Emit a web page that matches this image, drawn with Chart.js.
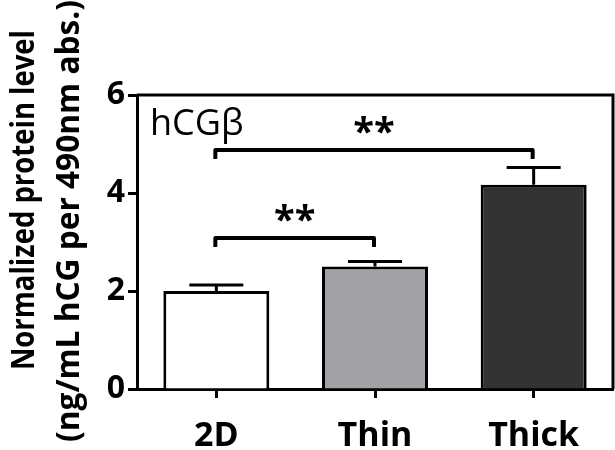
<!DOCTYPE html>
<html>
<head>
<meta charset="utf-8">
<script src="https://cdn.jsdelivr.net/npm/chart.js@4.4.1/dist/chart.umd.min.js"></script>
<style>
  body { margin: 0; background: #fff; }
  #wrap { width: 615px; height: 450px; }
</style>
</head>
<body>
<div id="wrap"><canvas id="hcgChart"></canvas></div>
<script>
// data
const categories = ["2D", "Thin", "Thick"];
const means = [2.0, 2.5, 4.17];
const sem = [0.12, 0.10, 0.35];
const yTicks = [0, 2, 4, 6];

// significance brackets: pair of bars, bracket height (data units), label
const sigFrom = [0, 0];
const sigTo = [1, 2];
const sigHeight = [3.08, 4.88];
const sigLabels = ["**", "**"];

const barColors = ["#ffffff", "#a2a2a6", "#333333"];
const FONT = "'Open Sans', 'DejaVu Sans', sans-serif";

// top + right frame lines
const framePlugin = {
  id: "frame",
  afterDraw(chart) {
    const { ctx, chartArea: a } = chart;
    ctx.save();
    ctx.strokeStyle = "#000";
    ctx.lineWidth = 3;
    ctx.beginPath();
    ctx.moveTo(a.left, a.top);
    ctx.lineTo(a.right, a.top);
    ctx.lineTo(a.right, a.bottom);
    ctx.stroke();
    ctx.restore();
  }
};

// upper whiskers only
const errorBarPlugin = {
  id: "errorBars",
  afterDatasetsDraw(chart) {
    const { ctx, scales: { x, y } } = chart;
    ctx.save();
    ctx.strokeStyle = "#000";
    ctx.lineWidth = 3;
    means.forEach((m, i) => {
      const px = x.getPixelForValue(i);
      const top = y.getPixelForValue(m + sem[i]);
      const base = y.getPixelForValue(m);
      ctx.beginPath();
      ctx.moveTo(px, base);
      ctx.lineTo(px, top);
      ctx.moveTo(px - 27, top);
      ctx.lineTo(px + 27, top);
      ctx.stroke();
    });
    ctx.restore();
  }
};

const bracketPlugin = {
  id: "brackets",
  afterDatasetsDraw(chart) {
    const { ctx, scales: { x, y } } = chart;
    ctx.save();
    ctx.strokeStyle = "#000";
    ctx.fillStyle = "#000";
    ctx.lineWidth = 4;
    ctx.lineJoin = "round";
    sigFrom.forEach((f, i) => {
      const x1 = x.getPixelForValue(f) - 1;
      const x2 = x.getPixelForValue(sigTo[i]) - 1;
      const yy = y.getPixelForValue(sigHeight[i]);
      ctx.beginPath();
      ctx.moveTo(x1, yy + 9);
      ctx.lineTo(x1, yy);
      ctx.lineTo(x2, yy);
      ctx.lineTo(x2, yy + 9);
      ctx.stroke();
      ctx.font = "bold 38px " + FONT;
      ctx.textAlign = "center";
      ctx.textBaseline = "alphabetic";
      ctx.fillText(sigLabels[i], (x1 + x2) / 2, yy - 5);
    });
    ctx.restore();
  }
};

// panel label and two-line y title
const textPlugin = {
  id: "texts",
  afterDraw(chart) {
    const { ctx, chartArea: a } = chart;
    ctx.save();
    ctx.fillStyle = "#000";
    ctx.font = "36px " + FONT;
    ctx.textAlign = "left";
    ctx.textBaseline = "alphabetic";
    ctx.fillText("hCGβ", a.left + 13, 135);

    ctx.font = "bold 32px " + FONT;
    ctx.textAlign = "center";
    ctx.textBaseline = "middle";
    ctx.translate(25, 200);
    ctx.rotate(-Math.PI / 2);
    ctx.fillText("Normalized protein level", 0, 0, 340);
    ctx.rotate(Math.PI / 2);
    ctx.translate(45, 21);
    ctx.rotate(-Math.PI / 2);
    ctx.fillText("(ng/mL hCG per 490nm abs.)", 0, 0, 442);
    ctx.restore();
  }
};

new Chart(document.getElementById("hcgChart"), {
  type: "bar",
  data: {
    labels: categories,
    datasets: [{
      data: means,
      backgroundColor: barColors,
      borderColor: "#000",
      borderWidth: 3,
      categoryPercentage: 1,
      barPercentage: 0.668
    }]
  },
  options: {
    responsive: true,
    maintainAspectRatio: false,
    animation: false,
    layout: { padding: { top: 95, right: 2 } },
    plugins: { legend: { display: false }, tooltip: { enabled: false } },
    scales: {
      x: {
        afterFit(scale) { scale.height = 61; },
        grid: { display: true, offset: false, drawOnChartArea: false, tickLength: 9, tickWidth: 3, tickColor: "#000" },
        border: { display: true, width: 3, color: "#000" },
        ticks: { color: "#000", padding: 18, font: { family: FONT, size: 34, weight: "bold" } }
      },
      y: {
        min: 0,
        max: 6,
        afterFit(scale) { scale.width = 137; },
        afterBuildTicks(scale) { scale.ticks = yTicks.map(v => ({ value: v })); },
        grid: { display: true, drawOnChartArea: false, tickLength: 9, tickWidth: 3, tickColor: "#000" },
        border: { display: true, width: 3, color: "#000" },
        ticks: { color: "#000", padding: 3, font: { family: FONT, size: 32, weight: "bold" } }
      }
    }
  },
  plugins: [framePlugin, errorBarPlugin, bracketPlugin, textPlugin]
});
</script>
</body>
</html>
